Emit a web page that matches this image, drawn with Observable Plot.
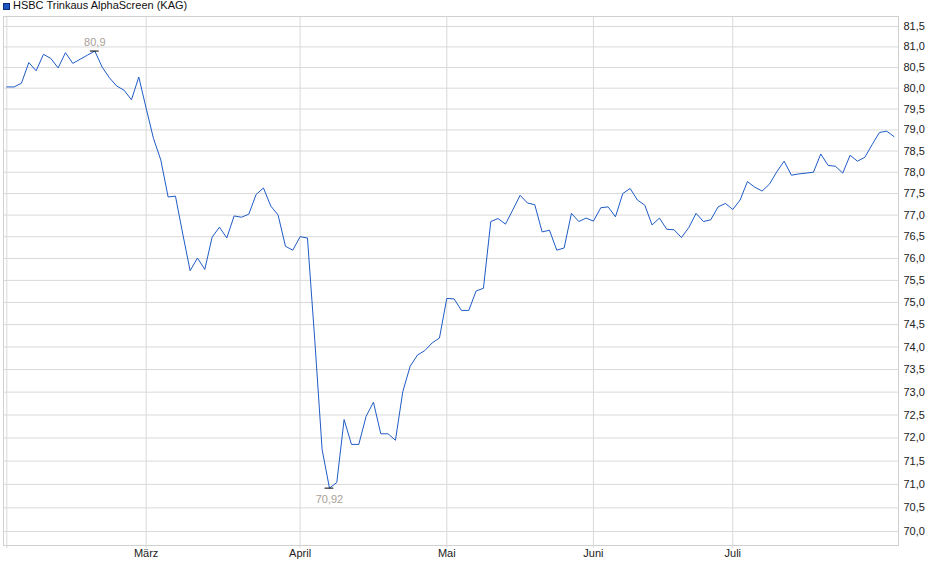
<!DOCTYPE html>
<html><head><meta charset="utf-8">
<script src="https://cdn.jsdelivr.net/npm/d3@7"></script>
<script src="https://cdn.jsdelivr.net/npm/@observablehq/plot@0.6"></script>
<style>
body{margin:0;background:#fff;font-family:"Liberation Sans",Arial,sans-serif;}
#wrap{position:relative;width:940px;height:579px;overflow:hidden;}
#sw{position:absolute;left:3px;top:3px;width:5px;height:5px;background:#1c56c0;border:1px solid #0b2d7a;}
#title{position:absolute;left:13px;top:-1px;font-size:11px;line-height:13px;color:#111;white-space:nowrap;}
#chart{position:absolute;left:0;top:0;}
</style></head>
<body><div id="wrap"><div id="chart"></div><div id="sw"></div><div id="title">HSBC Trinkaus AlphaScreen (KAG)</div></div>
<script>
// trading-day series (Feb 4 – Jul 31), one value per trading day
const values = [
  80.03, 80.03, 80.12, 80.62, 80.42, 80.82, 80.72, 80.49, 80.86, 80.60,
  80.70, 80.80, 80.90, 80.51, 80.25, 80.05, 79.95, 79.72, 80.27, 79.52,
  78.80, 78.29, 77.42, 77.44, 76.56, 75.72, 76.01, 75.75, 76.49, 76.72,
  76.47, 76.98, 76.95, 77.02, 77.48, 77.63, 77.21, 77.00, 76.28, 76.19,
  76.50, 76.47, 74.15, 71.75, 70.92, 71.04, 72.40, 71.86, 71.86, 72.47,
  72.78, 72.09, 72.09, 71.95, 73.01, 73.57, 73.82, 73.92, 74.09, 74.20,
  75.09, 75.08, 74.82, 74.82, 75.26, 75.32, 76.85, 76.92, 76.79, 77.12,
  77.46, 77.28, 77.24, 76.61, 76.65, 76.19, 76.24, 77.04, 76.85, 76.93,
  76.86, 77.17, 77.19, 76.96, 77.50, 77.62, 77.35, 77.23, 76.77, 76.93,
  76.67, 76.66, 76.48, 76.71, 77.04, 76.85, 76.89, 77.19, 77.27, 77.13,
  77.35, 77.78, 77.65, 77.56, 77.72, 78.01, 78.26, 77.93, 77.96, 77.98,
  78.00, 78.43, 78.16, 78.14, 77.98, 78.40, 78.26, 78.35, 78.65, 78.94,
  78.97, 78.84
];
// month starts as trading-day index
const tickIndex = [0, 19, 40, 60, 80, 99];
const tickLabels = ["", "März", "April", "Mai", "Juni", "Juli"];
const yTicks = [70.0, 70.5, 71.0, 71.5, 72.0, 72.5, 73.0, 73.5, 74.0, 74.5, 75.0, 75.5,
                76.0, 76.5, 77.0, 77.5, 78.0, 78.5, 79.0, 79.5, 80.0, 80.5, 81.0, 81.5];

const data = values.map((v, i) => ({i, v}));
const iMax = d3.maxIndex(values), iMin = d3.minIndex(values);
const labelMap = new Map(tickIndex.map((t, k) => [t, tickLabels[k]]));
const fmtAxis = v => v.toFixed(1).replace(".", ",");
const fmtExt = v => String(+v.toFixed(2)).replace(".", ",");
const grid = "#d9d9d9";

const chart = Plot.plot({
  width: 940, height: 579,
  marginLeft: 3, marginRight: 42, marginTop: 16, marginBottom: 34,
  style: {fontFamily: "'Liberation Sans', Arial, sans-serif", fontSize: "11px", background: "transparent", color: "#222"},
  x: {domain: [-0.45, 121.6], axis: null, label: null},
  y: {type: "log", domain: [69.705, 81.746], axis: null, label: null},
  marks: [
    Plot.ruleY(yTicks, {stroke: grid}),
    Plot.ruleX(tickIndex, {stroke: grid}),
    Plot.frame({stroke: "#d0d0d0"}),
    Plot.axisX(tickIndex, {anchor: "bottom", label: null, tickSize: 3, tickPadding: 1, stroke: grid, fill: "#222",
      tickFormat: d => labelMap.get(d)}),
    Plot.axisY(yTicks, {anchor: "right", label: null, tickSize: 0, tickPadding: 5, fill: "#222", tickFormat: fmtAxis}),
    Plot.line(data, {x: "i", y: "v", stroke: "#1f5bc6", strokeWidth: 1}),
    Plot.ruleY([data[iMax], data[iMin]], {y: "v", x1: d => d.i - 0.6, x2: d => d.i + 0.6, stroke: "#000"}),
    Plot.text([data[iMax]], {x: "i", y: "v", text: d => fmtExt(d.v), dy: -9, fill: "#a8a096"}),
    Plot.text([data[iMin]], {x: "i", y: "v", text: d => fmtExt(d.v), dy: 11, fill: "#a8a096"})
  ]
});
document.getElementById("chart").appendChild(chart);
</script>
</body></html>
